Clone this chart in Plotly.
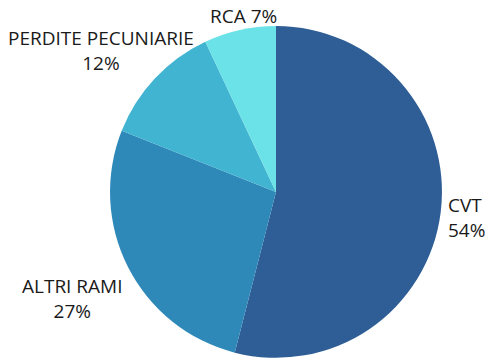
import plotly.graph_objects as go

labels = ["CVT", "ALTRI RAMI", "PERDITE PECUNIARIE", "RCA"]
values = [54, 27, 12, 7]
colors = ["#2E5E95", "#2E89B9", "#41B4D2", "#6BE2E7"]

# label placement (layout only, pixels from top-left)
label_pos = {
    "CVT": dict(x=446, y=217, anchor="left", sep="<br>"),
    "ALTRI RAMI": dict(x=72, y=298, anchor="center", sep="<br>"),
    "PERDITE PECUNIARIE": dict(x=101, y=50.5, anchor="center", sep="<br>"),
    "RCA": dict(x=243, y=16, anchor="center", sep=" "),
}

W, H = 490, 360
total = sum(values)

fig = go.Figure(go.Pie(
    labels=labels,
    values=values,
    textinfo="none",
    sort=False,
    direction="clockwise",
    rotation=0,
    marker=dict(colors=colors, line=dict(width=0)),
    domain=dict(x=[0.2245, 0.902], y=[0.006, 0.928]),
    showlegend=False,
    hoverinfo="label+percent",
))

for lab, v in zip(labels, values):
    pct = f"{round(100 * v / total)}%"
    p = label_pos[lab]
    fig.add_annotation(
        text=f"{lab}{p['sep']}{pct}",
        x=p["x"] / W, y=1 - p["y"] / H,
        xref="paper", yref="paper",
        xanchor=p["anchor"], yanchor="middle", align=p["anchor"],
        showarrow=False,
        font=dict(family="Open Sans", size=19, color="#1a1a1a"),
    )

fig.update_layout(
    width=W, height=H,
    margin=dict(l=0, r=0, t=0, b=0),
    paper_bgcolor="white",
    plot_bgcolor="white",
    showlegend=False,
)

fig.write_html(
    "out.html",
    config={"displayModeBar": False},
    post_script="document.body.style.margin='0';document.body.style.overflow='hidden';",
)
